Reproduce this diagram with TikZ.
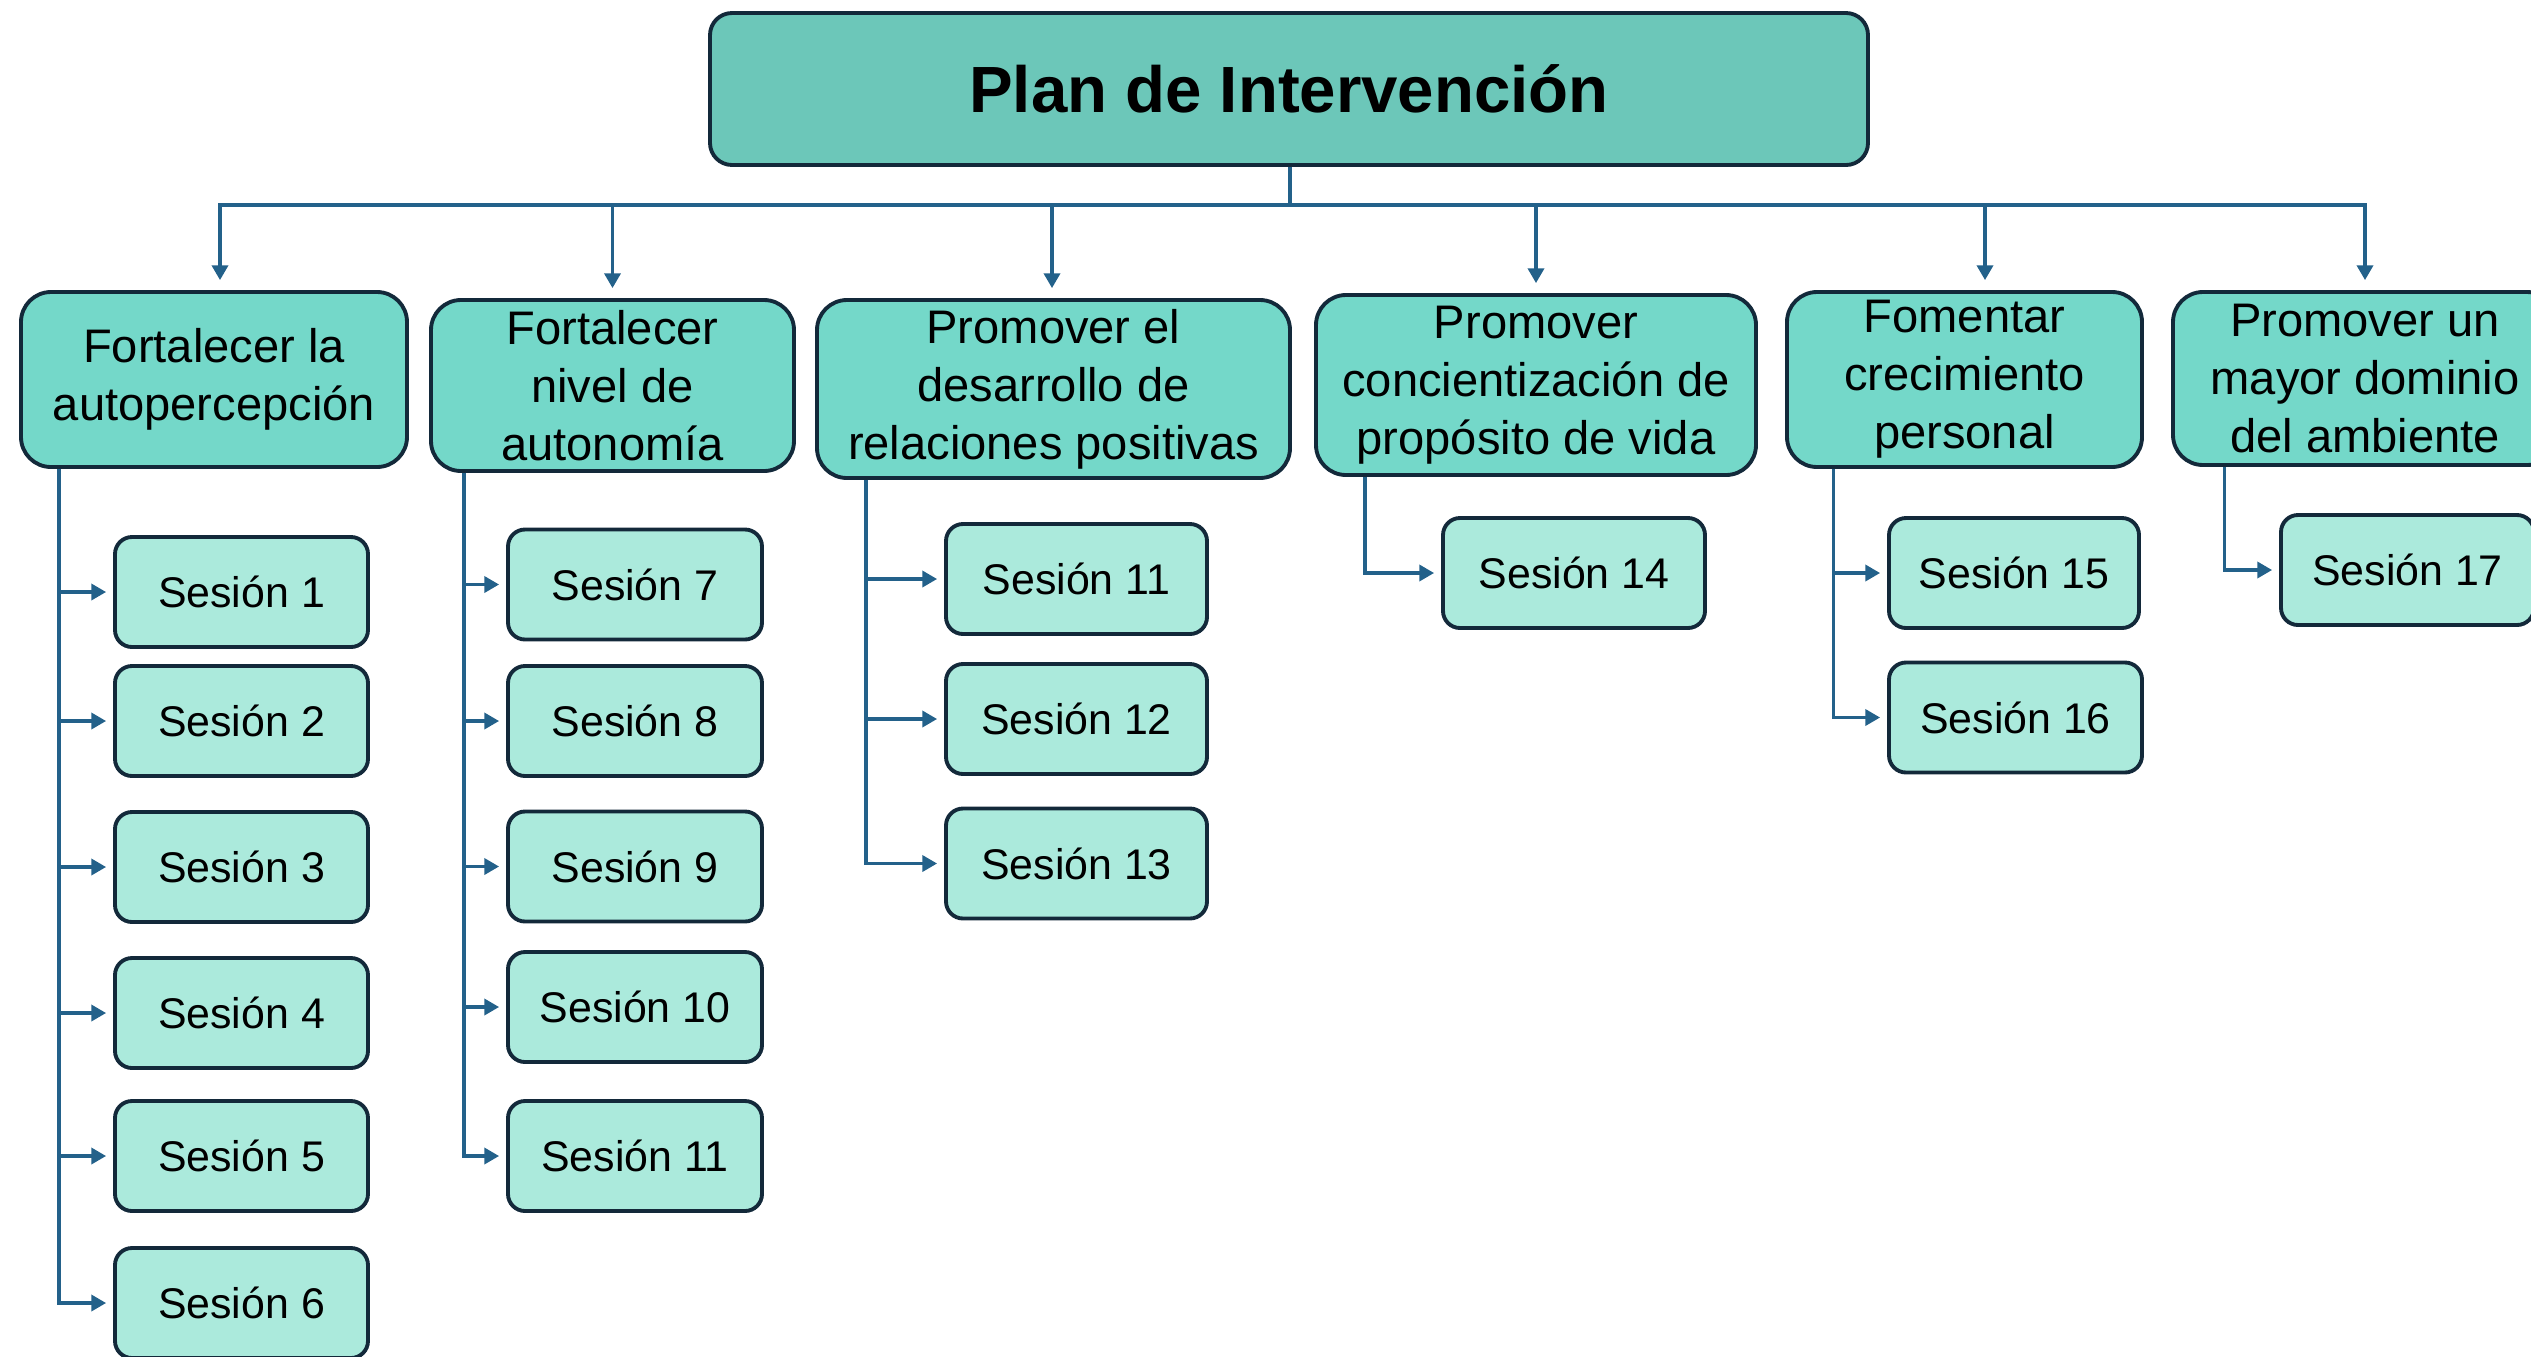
\documentclass[tikz,border=0pt]{standalone}
\usepackage{fontspec}
\setmainfont{Liberation Sans}
\usetikzlibrary{arrows.meta}
\definecolor{topfill}{HTML}{6CC7B9}
\definecolor{objfill}{HTML}{74D8C9}
\definecolor{sesfill}{HTML}{ABEADC}
\definecolor{bordc}{HTML}{13293A}
\definecolor{connc}{HTML}{23618A}
\begin{document}
\begin{tikzpicture}[
 box/.style={draw=bordc, line width=1.1pt, align=center, inner sep=0pt},
 topbox/.style={box, fill=topfill, rounded corners=0.22cm, minimum width=11.58cm, minimum height=1.52cm, font=\fontsize{18.6}{22}\selectfont\bfseries},
 objbox/.style={box, fill=objfill, rounded corners=0.3cm, font=\fontsize{13.4}{16.5}\selectfont},
 sesbox/.style={box, fill=sesfill, rounded corners=0.17cm, minimum height=1.1cm, font=\fontsize{12.2}{14}\selectfont},
 conn/.style={draw=connc, line width=0.9pt},
 arr/.style={conn, -{Triangle[length=4.2pt,width=4.6pt]}, shorten >=0.07cm},
 arrtop/.style={conn, -{Triangle[length=4.2pt,width=4.6pt]}, shorten >=0.1cm},
]
\useasboundingbox (0,0) rectangle (25.31,-13.56);

\node[topbox] (top) at (12.89,-0.89) {Plan de Intervención};

\node[objbox, minimum width=3.86cm, minimum height=1.75cm] (o1) at (2.14,-3.795) {Fortalecer la\\autopercepción};
\node[objbox, minimum width=3.63cm, minimum height=1.71cm] (o2) at (6.125,-3.855) {Fortalecer\\nivel de\\autonomía};
\node[objbox, minimum width=4.73cm, minimum height=1.78cm] (o3) at (10.535,-3.89) {Promover el\\desarrollo de\\relaciones positivas};
\node[objbox, minimum width=4.40cm, minimum height=1.80cm] (o4) at (15.36,-3.85) {Promover\\concientización de\\propósito de vida};
\node[objbox, minimum width=3.55cm, minimum height=1.75cm] (o5) at (19.645,-3.795) {Fomentar\\crecimiento\\personal};
\node[objbox, minimum width=3.84cm, minimum height=1.73cm] (o6) at (23.65,-3.785) {Promover un\\mayor dominio\\del ambiente};

\node[sesbox, minimum width=2.53cm] (s1) at (2.415,-5.92) {Sesión 1};
\node[sesbox, minimum width=2.53cm] (s2) at (2.415,-7.21) {Sesión 2};
\node[sesbox, minimum width=2.53cm] (s3) at (2.415,-8.67) {Sesión 3};
\node[sesbox, minimum width=2.53cm] (s4) at (2.415,-10.13) {Sesión 4};
\node[sesbox, minimum width=2.53cm] (s5) at (2.415,-11.56) {Sesión 5};
\node[sesbox, minimum width=2.53cm] (s6) at (2.415,-13.03) {Sesión 6};

\node[sesbox, minimum width=2.54cm] (s7) at (6.35,-5.845) {Sesión 7};
\node[sesbox, minimum width=2.54cm] (s8) at (6.35,-7.21) {Sesión 8};
\node[sesbox, minimum width=2.54cm] (s9) at (6.35,-8.665) {Sesión 9};
\node[sesbox, minimum width=2.54cm] (s10) at (6.35,-10.07) {Sesión 10};
\node[sesbox, minimum width=2.54cm] (s11) at (6.35,-11.56) {Sesión 11};

\node[sesbox, minimum width=2.61cm] (s11b) at (10.765,-5.79) {Sesión 11};
\node[sesbox, minimum width=2.61cm] (s12) at (10.765,-7.19) {Sesión 12};
\node[sesbox, minimum width=2.61cm] (s13) at (10.765,-8.635) {Sesión 13};

\node[sesbox, minimum width=2.62cm] (s14) at (15.74,-5.73) {Sesión 14};

\node[sesbox, minimum width=2.50cm] (s15) at (20.14,-5.73) {Sesión 15};
\node[sesbox, minimum width=2.53cm] (s16) at (20.155,-7.175) {Sesión 16};

\node[sesbox, minimum width=2.53cm] (s17) at (24.075,-5.70) {Sesión 17};

% top connectors
\coordinate (bus) at (12.90,-2.05);
\draw[conn] ([xshift=0.01cm]top.south) -- (bus);
\draw[arrtop] (bus) -| ([xshift=0.06cm]o1.north);
\draw[arrtop] (bus) -| (o2.north);
\draw[arrtop] (bus) -| ([xshift=-0.015cm]o3.north);
\draw[arrtop] (bus) -| (o4.north);
\draw[arrtop] (bus) -| ([xshift=0.205cm]o5.north);
\draw[arrtop] (bus) -| (o6.north);

% column connectors
\foreach \s in {s1,s2,s3,s4,s5,s6}
  \draw[arr] ([xshift=0.40cm]o1.south west) |- (\s.west);
\foreach \s in {s7,s8,s9,s10,s11}
  \draw[arr] ([xshift=0.35cm]o2.south west) |- (\s.west);
\foreach \s in {s11b,s12,s13}
  \draw[arr] ([xshift=0.51cm]o3.south west) |- (\s.west);
\draw[arr] ([xshift=0.51cm]o4.south west) |- (s14.west);
\foreach \s in {s15,s16}
  \draw[arr] ([xshift=0.48cm]o5.south west) |- (\s.west);
\draw[arr] ([xshift=0.53cm]o6.south west) |- (s17.west);
\end{tikzpicture}
\end{document}
